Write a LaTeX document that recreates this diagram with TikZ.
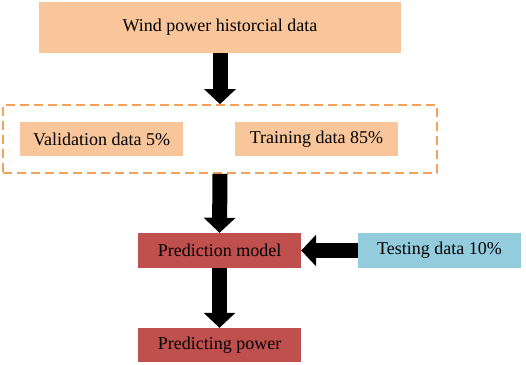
\documentclass[tikz,border=0pt]{standalone}
\usepackage{fontspec}
\setmainfont{Liberation Serif}
\usetikzlibrary{arrows.meta}
\definecolor{peach}{HTML}{F9C59B}
\definecolor{dashor}{HTML}{F4A15C}
\definecolor{redbox}{HTML}{C0504D}
\definecolor{bluebox}{HTML}{93CDDD}
\tikzset{
  box/.style={inner sep=0pt, font=\fontsize{18}{20}\selectfont, text=black},
  bigarrow/.style={draw=black, line width=15pt, -{Triangle[width=31pt,length=15pt]}},
}
\begin{document}
\begin{tikzpicture}[x=1pt,y=-1pt]
\useasboundingbox (0,0) rectangle (526,364);
\node[box, fill=peach, minimum width=362pt, minimum height=51pt] (hist) at (220,27.5) {Wind power historcial data};
\node[draw=dashor, line width=1.8pt, dash pattern=on 9pt off 5pt, minimum width=434pt, minimum height=68pt, inner sep=0pt] (split) at (220,139) {};
\node[box, fill=peach, minimum width=163pt, minimum height=34pt] (valid) at (101.5,139) {Validation data 5\%};
\node[box, fill=peach, minimum width=163pt, minimum height=34pt] (train) at (316.5,139) {Training data 85\%};
\node[box, fill=redbox, minimum width=163pt, minimum height=35pt] (model) at (219.5,250.5) {Prediction model};
\node[box, fill=bluebox, minimum width=163pt, minimum height=35pt] (test) at (439.5,250.5) {Testing data 10\%};
\node[box, fill=redbox, minimum width=163pt, minimum height=34pt] (power) at (219.5,345) {Predicting power};
\draw[bigarrow] (hist.south) -- (split.north);
\draw[bigarrow] (split.south) -- (model.north);
\draw[bigarrow] (test.west) -- (model.east);
\draw[bigarrow] (model.south) -- (power.north);
\end{tikzpicture}
\end{document}
